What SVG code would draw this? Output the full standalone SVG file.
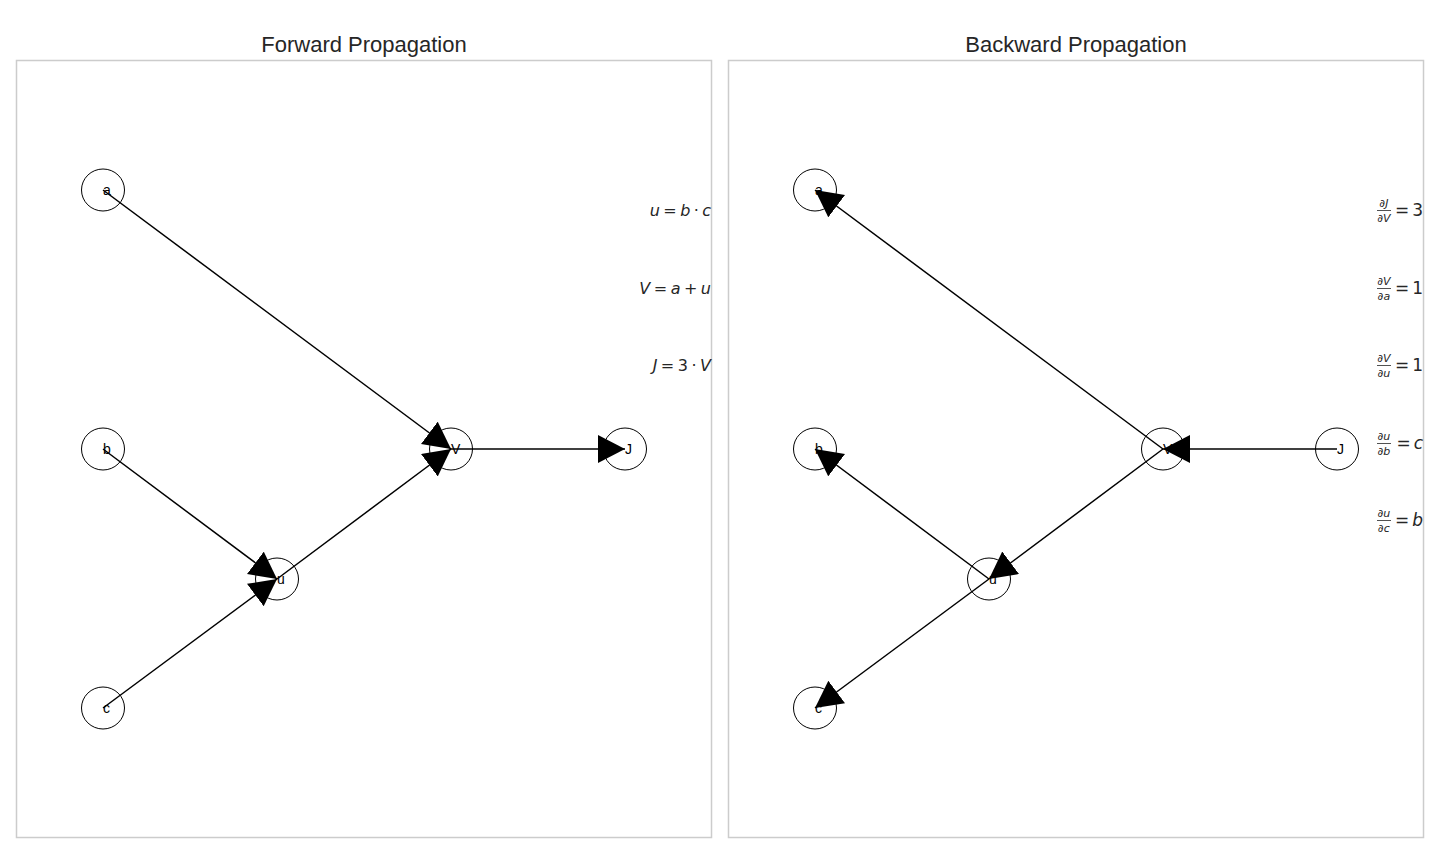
<svg xmlns="http://www.w3.org/2000/svg" width="1440" height="864" viewBox="0 0 1440 864">
<defs>
<style>
.frame{fill:none;stroke:#cccccc;stroke-width:1.5}
.title{font-family:"Liberation Sans",Arial,sans-serif;font-size:22px;fill:#262626;text-anchor:middle}
.node ellipse{fill:none;stroke:#000;stroke-width:1}
.node text{font-family:"Liberation Sans",Arial,sans-serif;font-size:14px;fill:#000}
.edge{stroke:#000;stroke-width:1.5;fill:none;marker-end:url(#head)}
.math{font-family:"DejaVu Sans",sans-serif;font-size:16px;fill:#262626}
.rhs{font-family:"DejaVu Sans",sans-serif;font-size:17px;fill:#262626}
.frac{font-family:"DejaVu Sans",sans-serif;font-size:11px;fill:#262626;text-anchor:middle}
.it{font-style:italic}
.bar{stroke:#262626;stroke-width:0.8}
</style>
<marker id="head" markerUnits="userSpaceOnUse" markerWidth="29" markerHeight="29" refX="27" refY="14" orient="auto" viewBox="0 0 29 29">
<path d="M0,0 L27,14 L0,28 z" fill="#000"/>
</marker>
</defs>
<rect width="1440" height="864" fill="#fff"/>

<g id="forward-panel">
<rect class="frame" x="16.5" y="60.5" width="695" height="777"/>
<text class="title" x="364" y="52">Forward Propagation</text>
</g>
<g id="backward-panel">
<rect class="frame" x="728.5" y="60.5" width="695" height="777"/>
<text class="title" x="1076" y="52">Backward Propagation</text>
</g>

<g id="forward-edges">
<line class="edge" x1="103" y1="190" x2="451" y2="449"/>
<line class="edge" x1="103" y1="449" x2="277" y2="579"/>
<line class="edge" x1="103" y1="708" x2="277" y2="579"/>
<line class="edge" x1="277" y1="579" x2="451" y2="449"/>
<line class="edge" x1="451" y1="449" x2="625" y2="449"/>
</g>
<g id="backward-edges">
<line class="edge" x1="1163" y1="449" x2="815" y2="190"/>
<line class="edge" x1="989" y1="579" x2="815" y2="449"/>
<line class="edge" x1="989" y1="579" x2="815" y2="708"/>
<line class="edge" x1="1163" y1="449" x2="989" y2="579"/>
<line class="edge" x1="1337" y1="449" x2="1163" y2="449"/>
</g>

<g id="f-a" class="node"><ellipse cx="103" cy="190" rx="21.5" ry="21"/><text x="103" y="195">a</text></g>
<g id="f-b" class="node"><ellipse cx="103" cy="449" rx="21.5" ry="21"/><text x="103" y="454">b</text></g>
<g id="f-c" class="node"><ellipse cx="103" cy="708" rx="21.5" ry="21"/><text x="103" y="713">c</text></g>
<g id="f-u" class="node"><ellipse cx="277" cy="579" rx="21.5" ry="21"/><text x="277" y="584">u</text></g>
<g id="f-V" class="node"><ellipse cx="451" cy="449" rx="21.5" ry="21"/><text x="451" y="454">V</text></g>
<g id="f-J" class="node"><ellipse cx="625" cy="449" rx="21.5" ry="21"/><text x="625" y="454">J</text></g>

<g id="b-a" class="node"><ellipse cx="815" cy="190" rx="21.5" ry="21"/><text x="815" y="195">a</text></g>
<g id="b-b" class="node"><ellipse cx="815" cy="449" rx="21.5" ry="21"/><text x="815" y="454">b</text></g>
<g id="b-c" class="node"><ellipse cx="815" cy="708" rx="21.5" ry="21"/><text x="815" y="713">c</text></g>
<g id="b-u" class="node"><ellipse cx="989" cy="579" rx="21.5" ry="21"/><text x="989" y="584">u</text></g>
<g id="b-V" class="node"><ellipse cx="1163" cy="449" rx="21.5" ry="21"/><text x="1163" y="454">V</text></g>
<g id="b-J" class="node"><ellipse cx="1337" cy="449" rx="21.5" ry="21"/><text x="1337" y="454">J</text></g>

<g id="forward-formulas">
<text class="math" x="711" y="216" text-anchor="end"><tspan class="it">u</tspan><tspan dx="3.4">=</tspan><tspan class="it" dx="3.4">b</tspan><tspan dx="3.4">·</tspan><tspan class="it" dx="3.4">c</tspan></text>
<text class="math" x="711" y="294" text-anchor="end"><tspan class="it">V</tspan><tspan dx="3.5">=</tspan><tspan class="it" dx="3.5">a</tspan><tspan dx="3.5">+</tspan><tspan class="it" dx="3.5">u</tspan></text>
<text class="math" x="711" y="371" text-anchor="end"><tspan class="it">J</tspan><tspan dx="3.5">=</tspan><tspan dx="3.5">3</tspan><tspan dx="3.5">·</tspan><tspan class="it" dx="3.5">V</tspan></text>
</g>

<g id="backward-formulas">
<g>
<text class="frac" x="1384" y="207">∂<tspan class="it">J</tspan></text>
<line class="bar" x1="1377" y1="210.5" x2="1391" y2="210.5"/>
<text class="frac" x="1384" y="222">∂<tspan class="it">V</tspan></text>
<text class="rhs" x="1423" y="216" text-anchor="end">=<tspan dx="3">3</tspan></text>
</g>
<g>
<text class="frac" x="1384" y="285">∂<tspan class="it">V</tspan></text>
<line class="bar" x1="1377" y1="288.5" x2="1391" y2="288.5"/>
<text class="frac" x="1384" y="300">∂<tspan class="it">a</tspan></text>
<text class="rhs" x="1423" y="294" text-anchor="end">=<tspan dx="3">1</tspan></text>
</g>
<g>
<text class="frac" x="1384" y="362">∂<tspan class="it">V</tspan></text>
<line class="bar" x1="1377" y1="365.5" x2="1391" y2="365.5"/>
<text class="frac" x="1384" y="377">∂<tspan class="it">u</tspan></text>
<text class="rhs" x="1423" y="371" text-anchor="end">=<tspan dx="3">1</tspan></text>
</g>
<g>
<text class="frac" x="1384" y="440">∂<tspan class="it">u</tspan></text>
<line class="bar" x1="1377" y1="443.5" x2="1391" y2="443.5"/>
<text class="frac" x="1384" y="455">∂<tspan class="it">b</tspan></text>
<text class="rhs" x="1423" y="449" text-anchor="end">=<tspan class="it" dx="3">c</tspan></text>
</g>
<g>
<text class="frac" x="1384" y="517">∂<tspan class="it">u</tspan></text>
<line class="bar" x1="1377" y1="520.5" x2="1391" y2="520.5"/>
<text class="frac" x="1384" y="532">∂<tspan class="it">c</tspan></text>
<text class="rhs" x="1423" y="526" text-anchor="end">=<tspan class="it" dx="3">b</tspan></text>
</g>
</g>
</svg>
